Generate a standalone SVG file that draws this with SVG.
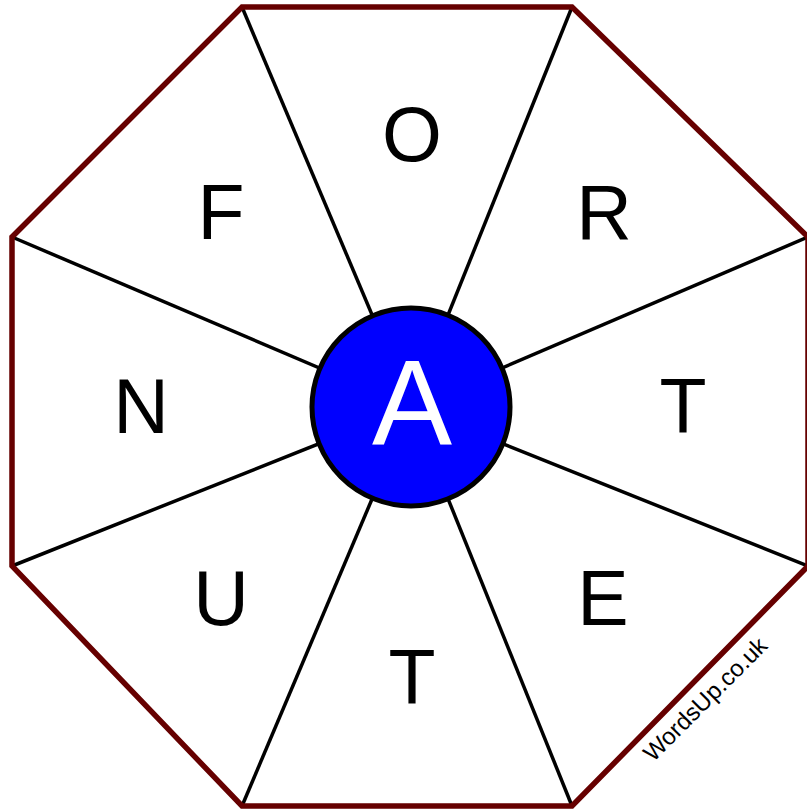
<svg xmlns="http://www.w3.org/2000/svg" width="807" height="810" viewBox="0 0 807 810">
<style>
.spoke{stroke:#000;stroke-width:3.5;fill:none}
.letter{font-family:"Liberation Sans",Arial,sans-serif;font-size:77px;fill:#000;text-anchor:middle}
</style>
<rect width="807" height="810" fill="#fff"/>
<g id="connectors">
<line class="spoke" x1="242" y1="7" x2="411" y2="407"/>
<line class="spoke" x1="572" y1="7" x2="411" y2="407"/>
<line class="spoke" x1="808" y1="237" x2="411" y2="407"/>
<line class="spoke" x1="808" y1="566" x2="411" y2="407"/>
<line class="spoke" x1="572" y1="806" x2="411" y2="407"/>
<line class="spoke" x1="242" y1="806" x2="411" y2="407"/>
<line class="spoke" x1="12" y1="566" x2="411" y2="407"/>
<line class="spoke" x1="12" y1="237" x2="411" y2="407"/>
</g>
<g id="octagon">
<polygon points="242,7 572,7 808,237 808,566 572,806 242,806 12,566 12,237" fill="none" stroke="#660000" stroke-width="5.5"/>
</g>
<g id="center">
<circle cx="411" cy="407" r="99" fill="#0000ff" stroke="#000" stroke-width="5"/>
<text x="412" y="444" font-family="'Liberation Sans',Arial,sans-serif" font-size="120" fill="#fff" text-anchor="middle">A</text>
</g>
<g id="n-O"><text class="letter" x="412" y="161">O</text></g>
<g id="n-R"><text class="letter" x="604" y="239">R</text></g>
<g id="n-T1"><text class="letter" x="683" y="433">T</text></g>
<g id="n-E"><text class="letter" x="603" y="625">E</text></g>
<g id="n-T2"><text class="letter" x="412" y="704">T</text></g>
<g id="n-U"><text class="letter" x="221" y="625">U</text></g>
<g id="n-N"><text class="letter" x="141" y="433">N</text></g>
<g id="n-F"><text class="letter" x="221" y="239">F</text></g>
<g id="watermark">
<text transform="translate(711,705) rotate(-45)" font-family="'Liberation Sans',Arial,sans-serif" font-size="24" fill="#000" text-anchor="middle">WordsUp.co.uk</text>
</g>
</svg>
